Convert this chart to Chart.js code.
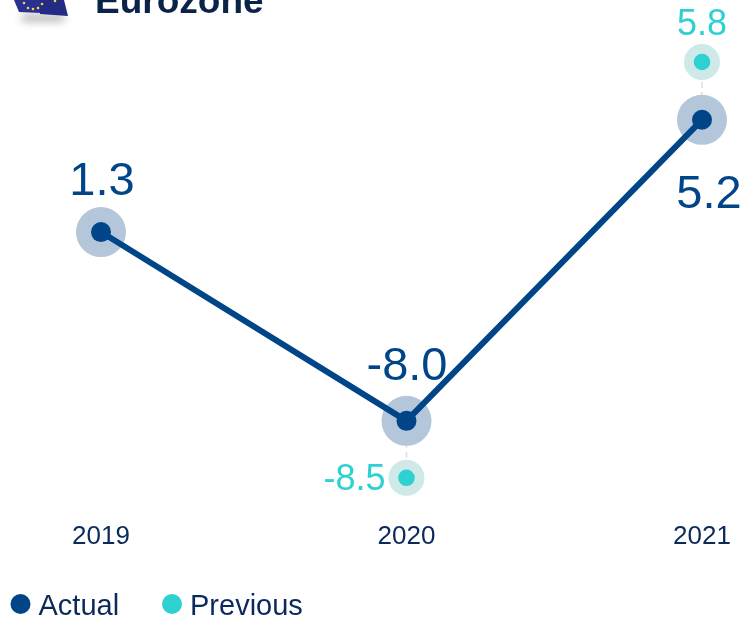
<!DOCTYPE html>
<html>
<head>
<meta charset="utf-8">
<style>
html,body{margin:0;padding:0;background:#fff;overflow:hidden}
#wrap{position:relative;width:744px;height:617px}
</style>
<script src="https://cdn.jsdelivr.net/npm/chart.js@4/dist/chart.umd.js"></script>
</head>
<body>
<div id="wrap"><canvas id="c" width="744" height="617"></canvas></div>
<script>
const categories = ['2019', '2020', '2021'];
const actualValues = [1.3, -8.0, 5.2];
const previousValues = [null, -8.5, 5.8];
const actualLabels = ['1.3', '-8.0', '5.2'];
const previousLabels = ['', '-8.5', '5.8'];
const chartTitle = 'Eurozone';

const NAVY = '#004587', TEAL = '#2ED1D1', INK = '#0B2A5B';
const FONT = '"Liberation Sans", Arial, sans-serif';

// The source chart's vertical axis is not proportional: these are the axis breakpoints.
const yAxisValues = [-8.5, -8, 1.3, 5.2, 5.8];
const yAxisShare = [0, 0.137, 0.591, 0.861, 1];
const xAxisShare = [0, 0.5083, 1];

function interp(d, xs, ys) {
  for (let i = 1; i < xs.length; i++) {
    if (d <= xs[i] || i === xs.length - 1) {
      return ys[i - 1] + (d - xs[i - 1]) / (xs[i] - xs[i - 1]) * (ys[i] - ys[i - 1]);
    }
  }
}
class BrokenLinearScale extends Chart.LinearScale {
  getPixelForDecimal(d) {
    const lo = yAxisValues[0], hi = yAxisValues[yAxisValues.length - 1];
    return super.getPixelForDecimal(interp(d, yAxisValues.map(v => (v - lo) / (hi - lo)), yAxisShare));
  }
}
BrokenLinearScale.id = 'brokenLinear';
BrokenLinearScale.defaults = Chart.LinearScale.defaults;
class UnevenCategoryScale extends Chart.CategoryScale {
  getPixelForDecimal(d) {
    return super.getPixelForDecimal(interp(d, [0, 0.5, 1], xAxisShare));
  }
}
UnevenCategoryScale.id = 'unevenCategory';
UnevenCategoryScale.defaults = Chart.CategoryScale.defaults;
Chart.register(BrokenLinearScale, UnevenCategoryScale);

const haloPlugin = {
  id: 'halos',
  beforeDatasetsDraw(chart) {
    const ctx = chart.ctx;
    const a = chart.getDatasetMeta(0).data, p = chart.getDatasetMeta(1).data;
    ctx.save();
    p.forEach((pt, i) => {
      if (previousValues[i] === null) return;
      ctx.beginPath();
      ctx.setLineDash([6, 4]);
      ctx.strokeStyle = '#DDDDDD';
      ctx.lineWidth = 1.5;
      ctx.moveTo(pt.x, pt.y);
      ctx.lineTo(a[i].x, a[i].y);
      ctx.stroke();
      ctx.setLineDash([]);
      ctx.beginPath();
      ctx.fillStyle = '#CFE8E8';
      ctx.arc(pt.x, pt.y, 18, 0, Math.PI * 2);
      ctx.fill();
    });
    a.forEach(pt => {
      ctx.beginPath();
      ctx.fillStyle = '#B3C6DA';
      ctx.arc(pt.x, pt.y, 25, 0, Math.PI * 2);
      ctx.fill();
    });
    ctx.restore();
  }
};

const labelPlugin = {
  id: 'valueLabels',
  afterDatasetsDraw(chart) {
    const ctx = chart.ctx;
    const a = chart.getDatasetMeta(0).data, p = chart.getDatasetMeta(1).data;
    ctx.save();
    ctx.textBaseline = 'alphabetic';
    ctx.textAlign = 'center';
    ctx.font = '47px ' + FONT;
    ctx.fillStyle = NAVY;
    const aOff = [[1, -37], [0.5, -41], [7, 88]];
    actualLabels.forEach((t, i) => ctx.fillText(t, a[i].x + aOff[i][0], a[i].y + aOff[i][1]));
    ctx.font = '36px ' + FONT;
    ctx.fillStyle = TEAL;
    const pOff = [null, [-52, 12], [0, -27]];
    previousLabels.forEach((t, i) => {
      if (t) ctx.fillText(t, p[i].x + pOff[i][0], p[i].y + pOff[i][1]);
    });
    ctx.restore();
  }
};

const headerPlugin = {
  id: 'header',
  afterDraw(chart) {
    const ctx = chart.ctx;
    ctx.save();
    // flag remnant with its shadow
    ctx.save();
    ctx.filter = 'blur(4px)';
    ctx.fillStyle = 'rgba(90,90,90,0.55)';
    ctx.fillRect(22, 15, 42, 6);
    ctx.restore();
    ctx.fillStyle = '#2B3190';
    ctx.beginPath();
    ctx.moveTo(14, 0); ctx.lineTo(19, 12); ctx.lineTo(41, 13); ctx.lineTo(41, 0);
    ctx.closePath(); ctx.fill();
    ctx.fillStyle = '#232B85';
    ctx.beginPath();
    ctx.moveTo(40, 0); ctx.lineTo(40, 14); ctx.lineTo(68, 16); ctx.lineTo(64, 0);
    ctx.closePath(); ctx.fill();
    ctx.fillStyle = '#E8D84A';
    [[24, 3], [28, 8], [33, 9], [38, 8], [42, 4], [55, 1]].forEach(s => {
      ctx.beginPath(); ctx.arc(s[0], s[1], 1.3, 0, Math.PI * 2); ctx.fill();
    });
    ctx.font = 'bold 37px ' + FONT;
    ctx.fillStyle = '#0B2349';
    ctx.textAlign = 'left';
    ctx.textBaseline = 'alphabetic';
    ctx.fillText(chartTitle, 95, 13);
    // legend, read from the datasets
    const legendY = 604;
    const legendDots = [20.5, 172];
    ctx.font = '29px ' + FONT;
    ctx.textBaseline = 'middle';
    chart.data.datasets.forEach((ds, i) => {
      ctx.beginPath();
      ctx.fillStyle = ds.backgroundColor;
      ctx.arc(legendDots[i], legendY, 10, 0, Math.PI * 2);
      ctx.fill();
      ctx.fillStyle = INK;
      ctx.fillText(ds.label, legendDots[i] + 18, legendY + 3);
    });
    ctx.restore();
  }
};

new Chart(document.getElementById('c'), {
  type: 'line',
  data: {
    labels: categories,
    datasets: [
      {
        label: 'Actual', data: actualValues, borderColor: NAVY, backgroundColor: NAVY,
        borderWidth: 6, pointRadius: 10, pointHoverRadius: 10, pointBorderWidth: 0,
        pointBackgroundColor: NAVY, tension: 0, clip: false, order: 1
      },
      {
        label: 'Previous', data: previousValues, showLine: false, borderColor: TEAL, backgroundColor: TEAL,
        pointRadius: 8.3, pointHoverRadius: 8.3, pointBorderWidth: 0,
        pointBackgroundColor: TEAL, clip: false, order: 2
      }
    ]
  },
  options: {
    responsive: false,
    animation: false,
    devicePixelRatio: 1,
    layout: { padding: { left: 101, right: 42, top: 62, bottom: 30 } },
    plugins: {
      title: { display: false },
      tooltip: { enabled: false },
      legend: { display: false }
    },
    scales: {
      x: {
        type: 'unevenCategory', offset: false,
        grid: { display: false }, border: { display: false },
        afterFit(s) { s.paddingLeft = 0; s.paddingRight = 0; },
        ticks: { color: INK, font: { family: FONT, size: 26 }, padding: 35, maxRotation: 0, autoSkip: false, align: 'center' }
      },
      y: {
        type: 'brokenLinear', min: -8.5, max: 5.8, display: false
      }
    }
  },
  plugins: [haloPlugin, labelPlugin, headerPlugin]
});
</script>
</body>
</html>
